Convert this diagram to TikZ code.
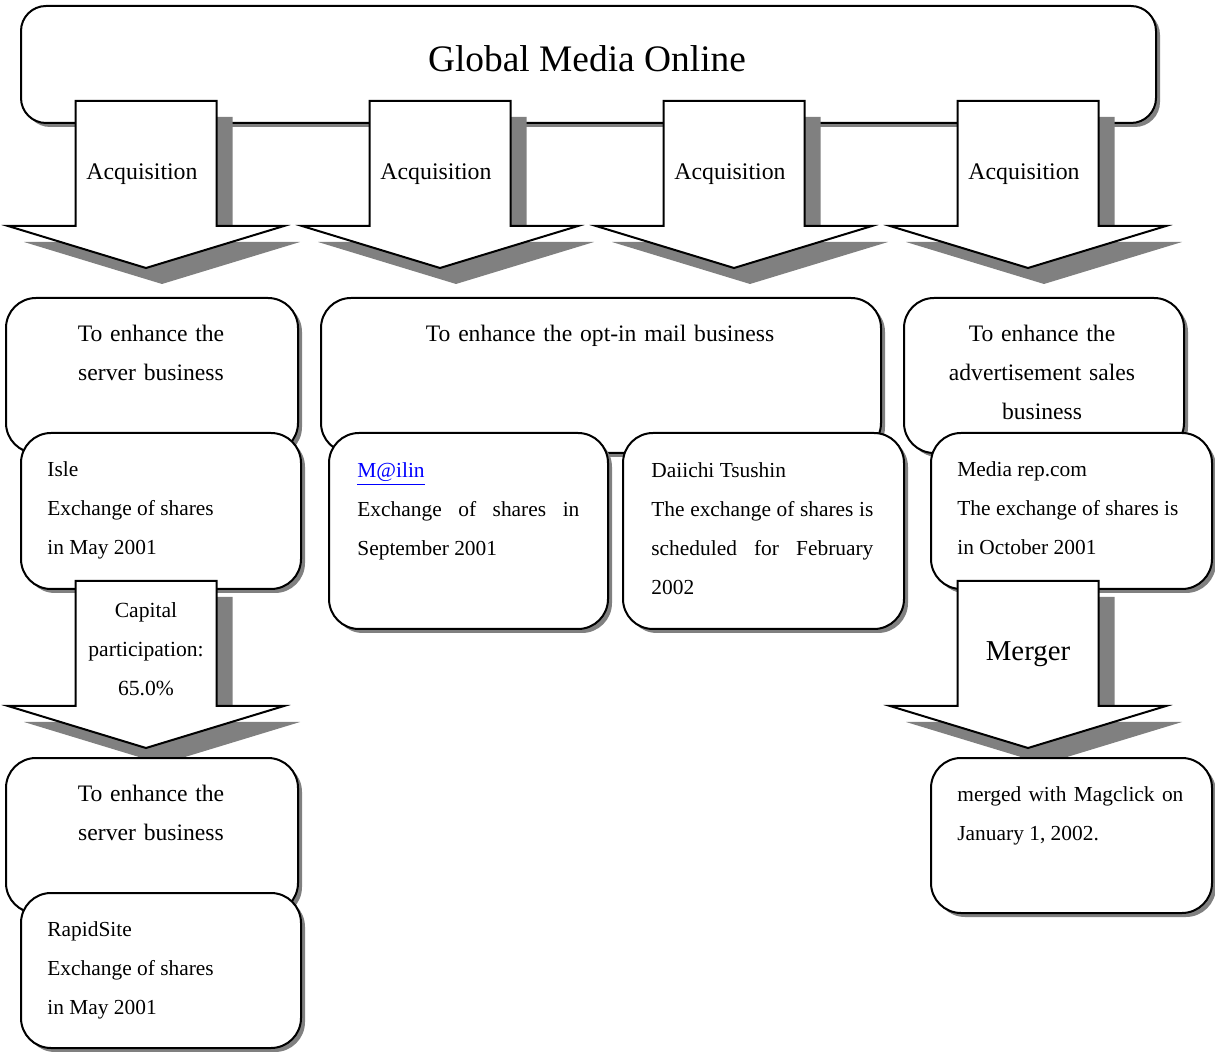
\documentclass[tikz,border=0pt]{standalone}
\usepackage{fontspec}
\setmainfont{Liberation Serif}
\usetikzlibrary{shadows}

\tikzset{
  panel/.style={draw, line width=1pt, fill=white, rounded corners=15pt, inner sep=0pt,
    anchor=north west,
    drop shadow={shadow xshift=2pt, shadow yshift=-2pt, fill=gray, opacity=1}},
  arrowbody/.style={draw, line width=1pt, fill=white, line join=miter},
  arrowshadow/.style={fill=gray},
  headtext/.style={font=\fontsize{11.8}{19.5}\selectfont, text width=135pt,
    align=center, anchor=base, inner sep=0pt},
  detailtext/.style={font=\fontsize{10.7}{19.5}\selectfont, text width=113pt,
    align=justify, anchor=base west, inner sep=0pt},
  arrowtext/.style={font=\fontsize{11.9}{19.5}\selectfont, text width=70pt,
    align=center, anchor=base, inner sep=0pt},
}

% block arrow pointing down: #1 = centre x, #2 = top y
\newcommand{\blockarrow}[2]{%
  \fill[arrowshadow, shift={(16,16)}] (#1-70.5,#2) -- (#1+70.5,#2) -- (#1+70.5,#2+125)
    -- (#1+138,#2+125) -- (#1,#2+167) -- (#1-138,#2+125) -- (#1-70.5,#2+125) -- cycle;
  \draw[arrowbody] (#1-70.5,#2) -- (#1+70.5,#2) -- (#1+70.5,#2+125)
    -- (#1+138,#2+125) -- (#1,#2+167) -- (#1-138,#2+125) -- (#1-70.5,#2+125) -- cycle;
}

\begin{document}
\begin{tikzpicture}[x=0.5pt, y=-0.5pt]
  \useasboundingbox (0,0) rectangle (1215,1052);

  % company
  \node[panel, rounded corners=12.5pt, minimum width=567.5pt, minimum height=58.5pt]
    (gmo) at (20,5) {};
  \node[font=\fontsize{18.7}{22}\selectfont, anchor=base] (gmotext) at (587,72)
    {Global Media Online};

  % acquisitions
  \foreach \cx [count=\k] in {146,440,734,1028} {
    \blockarrow{\cx}{101}
    \node[arrowtext] (acq\k) at (\cx-4,180) {Acquisition};
  }

  % purposes
  \node[panel, minimum width=146pt, minimum height=77.5pt] (server) at (5,297) {};
  \node[headtext] (servertext) at (151,342) {To enhance the\\ server business};

  \node[panel, minimum width=280pt, minimum height=77.5pt] (optin) at (320,297) {};
  \node[headtext, text width=270pt] (optintext) at (600,342)
    {To enhance the opt-in mail business};

  \node[panel, minimum width=140pt, minimum height=77.5pt] (adsales) at (903,297) {};
  \node[headtext] (adsalestext) at (1042,342)
    {To enhance the\\ advertisement sales\\ business};

  % companies acquired
  \node[panel, minimum width=140pt, minimum height=78pt] (isle) at (20,432) {};
  \node[detailtext] (isletext) at (47,477)
    {Isle\\ Exchange of shares\\ in May 2001};

  \node[panel, minimum width=139.5pt, minimum height=98pt] (mailin) at (328,432) {};
  \node[detailtext, text width=111pt] (mailintext) at (357,478)
    {\textcolor{blue}{\underline{M@ilin}}\\ Exchange of shares in\linebreak September 2001};

  \node[panel, minimum width=140.5pt, minimum height=98pt] (daiichi) at (622,432) {};
  \node[detailtext, text width=111pt] (daiichitext) at (651,478)
    {Daiichi Tsushin\\ The exchange of shares is\linebreak scheduled for February\linebreak 2002};

  \node[panel, minimum width=140.5pt, minimum height=78pt] (mediarep) at (930,432) {};
  \node[detailtext] (mediareptext) at (957,477)
    {Media rep.com\\ The exchange of shares is\\ in October 2001};

  % second level
  \blockarrow{146}{581}
  \node[arrowtext, font=\fontsize{10.8}{19.5}\selectfont] (capital) at (146,618)
    {Capital\\ participation:\\ 65.0\%};

  \blockarrow{1028}{581}
  \node[arrowtext, font=\fontsize{14.4}{19.5}\selectfont] (merger) at (1028,661) {Merger};

  \node[panel, minimum width=146pt, minimum height=77.5pt] (server2) at (5,757) {};
  \node[headtext] (server2text) at (151,801) {To enhance the\\ server business};

  \node[panel, minimum width=140pt, minimum height=77.5pt] (rapid) at (20,892) {};
  \node[detailtext] (rapidtext) at (47,936)
    {RapidSite\\ Exchange of shares\\ in May 2001};

  \node[panel, minimum width=140.5pt, minimum height=77.5pt] (merged) at (930,757) {};
  \node[detailtext] (mergedtext) at (957,801)
    {merged with Magclick on\linebreak January 1, 2002.};
\end{tikzpicture}
\end{document}
